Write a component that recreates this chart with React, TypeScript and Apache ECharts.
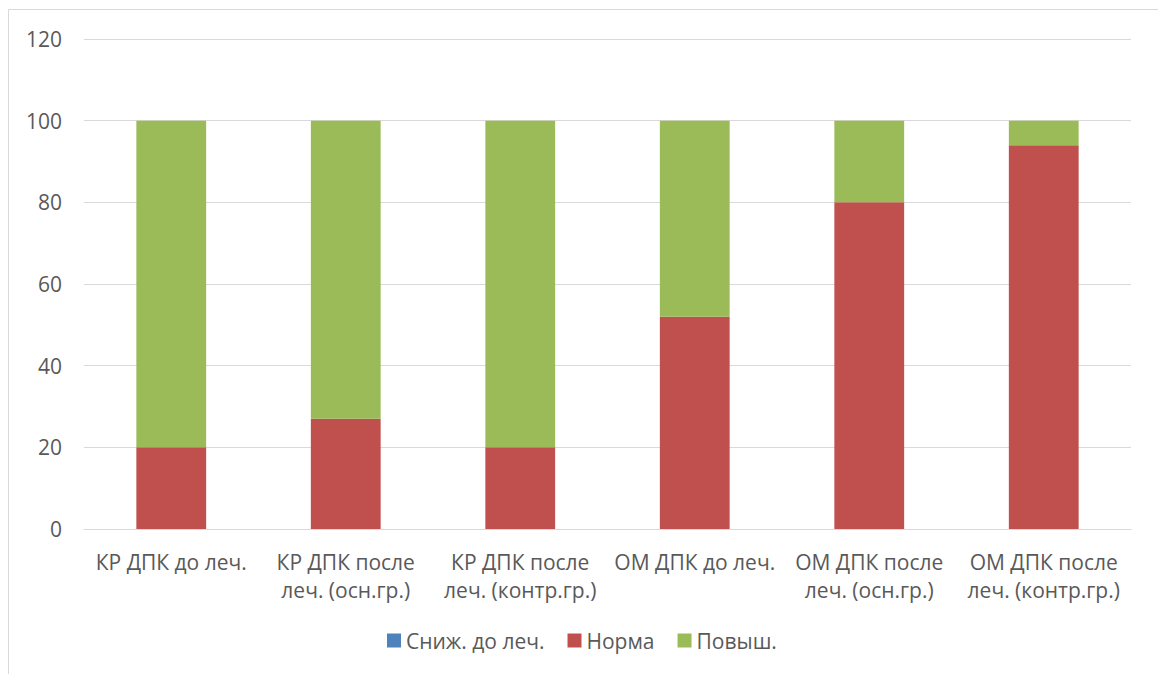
import React, { useEffect, useRef } from "react";
import * as echarts from "echarts";

const categories = [
  "КР ДПК до леч.",
  "КР ДПК после\nлеч. (осн.гр.)",
  "КР ДПК после\nлеч. (контр.гр.)",
  "ОМ ДПК до леч.",
  "ОМ ДПК после\nлеч. (осн.гр.)",
  "ОМ ДПК после\nлеч. (контр.гр.)",
];
const seriesNames = ["Сниж. до леч.", "Норма", "Повыш."];
const snizh = [0, 0, 0, 0, 0, 0];
const norma = [20, 27, 20, 52, 80, 94];
const povysh = [80, 73, 80, 48, 20, 6];
const colors = ["#4f81bd", "#c0504d", "#9bbb59"];

const FONT = "'Open Sans', 'Noto Sans', sans-serif";
const TEXT = "#595959";
const FS = 21;

export default function App() {
  const ref = useRef<HTMLDivElement>(null);
  useEffect(() => {
    if (!ref.current) return;
    const chart = echarts.init(ref.current, undefined, { renderer: "svg" });
    const values = [snizh, norma, povysh];
    chart.setOption({
      animation: false,
      backgroundColor: "#ffffff",
      graphic: [
        {
          type: "rect",
          shape: { x: 8.5, y: 9.5, width: 1200, height: 700 },
          style: { fill: "none", stroke: "#d9d9d9", lineWidth: 1 },
          silent: true,
        },
      ],
      grid: { left: 84, right: 27, top: 39, bottom: 145 },
      legend: {
        data: seriesNames,
        left: 382,
        top: 625,
        itemWidth: 14,
        itemHeight: 14,
        itemGap: 23,
        icon: "rect",
        textStyle: { color: TEXT, fontFamily: FONT, fontSize: FS },
      },
      xAxis: {
        type: "category",
        data: categories,
        axisLine: { lineStyle: { color: "#d9d9d9", width: 1 } },
        axisTick: { show: false },
        axisLabel: {
          color: TEXT,
          fontFamily: FONT,
          fontSize: FS,
          lineHeight: 28,
          margin: 19,
          interval: 0,
        },
      },
      yAxis: {
        type: "value",
        min: 0,
        max: 120,
        interval: 20,
        axisLine: { show: false },
        axisTick: { show: false },
        splitLine: { lineStyle: { color: "#d9d9d9", width: 1 } },
        axisLabel: { color: TEXT, fontFamily: FONT, fontSize: FS, margin: 22 },
      },
      series: seriesNames.map((name, i) => ({
        name,
        type: "bar",
        stack: "total",
        barWidth: "40%",
        data: values[i],
        itemStyle: { color: colors[i] },
      })),
    });
    return () => chart.dispose();
  }, []);
  return (
    <div
      ref={ref}
      style={{ position: "fixed", left: 0, top: 0, width: 1158, height: 674 }}
    />
  );
}
